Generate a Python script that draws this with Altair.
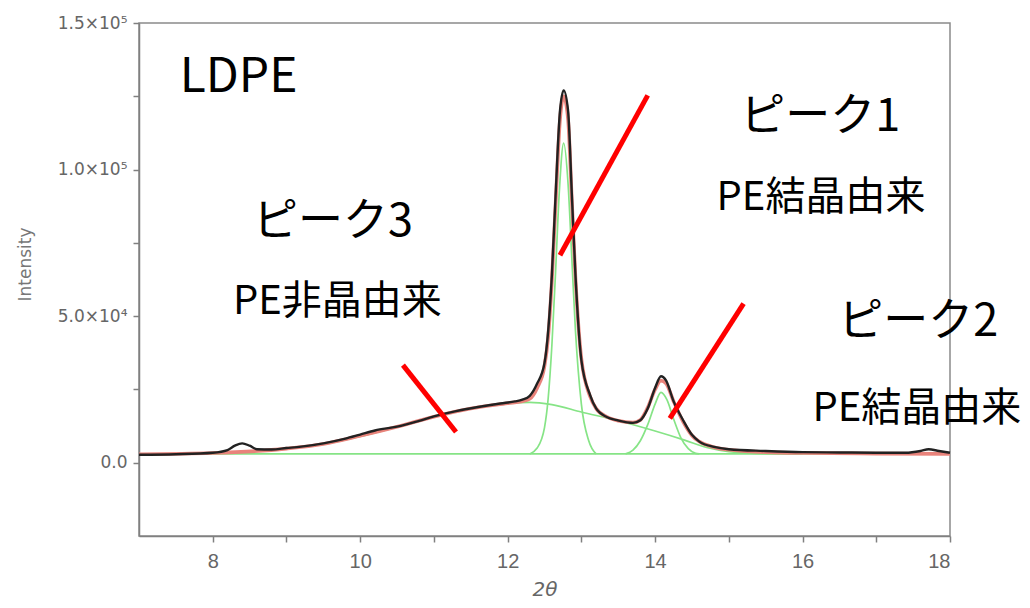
import altair as alt
import pandas as pd

# ---------------- data ----------------
x_domain = [7, 18]
y_domain = [-25000, 150000]

x_tick_values = [8, 9, 10, 11, 12, 13, 14, 15, 16, 17, 18]
x_tick_labels = ["8", "", "10", "", "12", "", "14", "", "16", "", "18"]
y_tick_values = [0, 25000, 50000, 75000, 100000, 125000, 150000]
y_tick_labels = ["0.0", "", "5.0×10⁴", "", "1.0×10⁵", "", "1.5×10⁵"]

# measured pattern (black)
meas_x = [7.0, 7.5, 8.0, 8.2, 8.3, 8.4, 8.5, 8.6, 8.8, 9.0, 9.2, 9.5, 9.8, 10.0,
          10.2, 10.5, 10.8, 11.0, 11.3, 11.6, 11.9, 12.1, 12.2, 12.3, 12.4, 12.5,
          12.55, 12.6, 12.65, 12.71, 12.76, 12.82, 12.87, 12.92, 13.0, 13.12, 13.2,
          13.35, 13.5, 13.7, 13.8, 13.9, 14.0, 14.08, 14.15, 14.25, 14.38, 14.5,
          14.6, 14.8, 15.0, 15.5, 16.0, 16.5, 17.0, 17.4, 17.6, 17.71, 17.85, 18.0]
meas_y = [2700, 2900, 3400, 4300, 5800, 6600, 5800, 4600, 4500, 5000, 5500, 6600,
          8200, 9600, 11000, 12300, 14300, 15800, 17600, 19000, 20200, 20900, 21500,
          22800, 27000, 34000, 45000, 64000, 91000, 120000, 127000, 120000, 92000,
          64000, 35000, 23000, 18500, 15500, 14400, 13600, 14500, 18500, 25500,
          29500, 28000, 21000, 14500, 9500, 7200, 5400, 4600, 4000, 3600, 3500,
          3400, 3400, 4000, 4600, 4000, 3400]

# cumulative fit (red)
fit_x = [7.0, 8.0, 9.0, 9.5, 10.0, 10.5, 11.0, 11.5, 12.0, 12.2, 12.3, 12.4, 12.5,
         12.55, 12.6, 12.65, 12.71, 12.76, 12.82, 12.87, 12.92, 13.0, 13.12, 13.2,
         13.35, 13.5, 13.7, 13.8, 13.9, 14.0, 14.08, 14.15, 14.25, 14.38, 14.5,
         14.6, 14.8, 15.0, 15.5, 16.0, 17.0, 18.0]
fit_y = [2900, 3300, 4800, 6400, 9200, 12300, 15700, 18500, 20300, 21000, 21800,
         25500, 33000, 43000, 62000, 88000, 117000, 125000, 117000, 90000, 63000,
         35500, 22500, 18500, 15600, 14300, 13700, 14600, 18800, 25000, 28000,
         27000, 21000, 14000, 9300, 7200, 5300, 4400, 3600, 3300, 3100, 3000]

# fitted components (green)
base_x = [7.0, 18.0]
base_y = [3000, 3000]

amor_x = [7.0, 8.0, 8.5, 9.0, 9.5, 10.0, 10.5, 11.0, 11.5, 12.0, 12.3, 12.6, 13.0,
          13.5, 14.0, 14.4, 14.7, 15.0, 15.5, 16.0]
amor_y = [3000, 3300, 3900, 4800, 6400, 9000, 12200, 15600, 18400, 20200, 20600,
          19800, 17300, 14300, 10800, 7700, 5200, 3800, 3100, 3000]

pk1_x = [12.3, 12.4, 12.5, 12.55, 12.6, 12.65, 12.7, 12.76, 12.82, 12.87, 12.92,
         13.0, 13.1, 13.2]
pk1_y = [3000, 5000, 12000, 22000, 40000, 65000, 92000, 109000, 95000, 70000,
         45000, 20000, 7500, 3000]

pk2_x = [13.6, 13.7, 13.8, 13.9, 14.0, 14.08, 14.16, 14.25, 14.35, 14.45, 14.55, 14.6]
pk2_y = [3000, 4300, 7500, 13000, 20000, 24000, 21500, 15000, 8500, 4800, 3200, 3000]

# red pointer segments (data coordinates)
seg_x1 = [10.58, 13.90, 15.20]
seg_y1 = [33300, 125300, 54300]
seg_x2 = [11.30, 12.71, 14.20]
seg_y2 = [10460, 70780, 15130]

# annotation texts
label_text = ["LDPE", "ピーク3", "PE非晶由来", "ピーク1", "PE結晶由来", "ピーク2", "PE結晶由来"]
label_x = [8.35, 9.63, 9.69, 16.24, 16.25, 17.57, 17.55]
label_y = [131100, 82000, 54700, 118100, 90200, 47900, 18300]
label_size = [48, 45, 40, 45, 40, 45, 40]

# ---------------- build tables ----------------
def line_df(xs, ys):
    return pd.DataFrame({"x": xs, "y": ys})

meas_df = line_df(meas_x, meas_y)
fit_df = line_df(fit_x, fit_y)
comp_df = pd.concat([
    line_df(base_x, base_y).assign(c="base"),
    line_df(amor_x, amor_y).assign(c="amor"),
    line_df(pk1_x, pk1_y).assign(c="pk1"),
    line_df(pk2_x, pk2_y).assign(c="pk2"),
])
seg_df = pd.DataFrame({"x": seg_x1, "y": seg_y1, "x2": seg_x2, "y2": seg_y2})
text_df = pd.DataFrame({"t": label_text, "x": label_x, "y": label_y, "s": label_size})


def expr_for(values, labels):
    e = "''"
    for v, l in zip(values, labels):
        e = f"datum.value == {v} ? '{l}' : ({e})"
    return e


x_scale = alt.Scale(domain=x_domain, nice=False, zero=False)
y_scale = alt.Scale(domain=y_domain, nice=False, zero=False)

x_enc = alt.X("x:Q", scale=x_scale, axis=alt.Axis(
    values=x_tick_values, labelExpr=expr_for(x_tick_values, x_tick_labels),
    labelFont="Liberation Sans", labelFontSize=20, labelPadding=9,
    title="2θ", titleFont="DejaVu Sans", titleFontStyle="italic", titleFontSize=20,
    titleFontWeight="normal", titleColor="#666", titleY=53, titleBaseline="middle"))
y_enc = alt.Y("y:Q", scale=y_scale, axis=alt.Axis(
    values=y_tick_values, labelExpr=expr_for(y_tick_values, y_tick_labels),
    labelFont="DejaVu Sans", labelFontSize=17, labelPadding=6,
    title="Intensity", titleFont="DejaVu Sans", titleFontSize=17,
    titleFontWeight="normal", titleColor="#777",
    titleX=-114, titleY=241, titleAlign="center", titleBaseline="middle"))

comp = alt.Chart(comp_df).mark_line(color="#86e486", strokeWidth=1.7,
                                    interpolate="monotone").encode(
    x=x_enc, y=y_enc, detail="c:N", order="x:Q")
fit = alt.Chart(fit_df).mark_line(color="#e9837b", strokeWidth=3.6, interpolate="monotone").encode(
    x="x:Q", y="y:Q")
meas = alt.Chart(meas_df).mark_line(color="#222222", strokeWidth=2.4, interpolate="monotone").encode(
    x="x:Q", y="y:Q")
segs = alt.Chart(seg_df).mark_rule(color="#ff0000", strokeWidth=5).encode(
    x="x:Q", y="y:Q", x2="x2:Q", y2="y2:Q")
texts = alt.Chart(text_df).mark_text(font="Noto Sans CJK JP", color="black",
                                     align="center", baseline="middle").encode(
    x="x:Q", y="y:Q", text="t:N", size=alt.Size("s:Q", scale=None))

chart = alt.layer(comp, fit, meas, segs, texts).properties(
    width=811, height=513,
    autosize=alt.AutoSizeParams(type="none"),
    padding={"left": 131, "top": 15, "right": 72, "bottom": 64},
).configure_view(
    stroke="#8a8a8a", strokeWidth=1.5
).configure_axis(
    grid=False, domainColor="#808080", domainWidth=1.5, tickColor="#808080",
    tickWidth=1.5, tickSize=6, labelColor="#666666", labelFont="Liberation Sans",
    labelFontSize=17, titleFont="Liberation Sans"
)

chart.save("out.html", embed_options={"renderer": "svg", "actions": False})
